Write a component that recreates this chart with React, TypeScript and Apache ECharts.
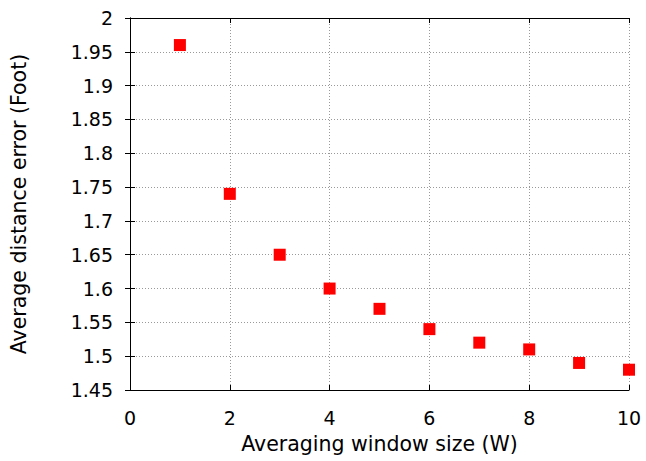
import React, { useEffect, useRef } from "react";
import * as echarts from "echarts";

const windowSizes = [1, 2, 3, 4, 5, 6, 7, 8, 9, 10];
const avgErrors = [1.96, 1.74, 1.65, 1.6, 1.57, 1.54, 1.52, 1.51, 1.49, 1.48];

const xTitle = "Averaging window size (W)";
const yTitle = "Average distance error (Foot)";

export default function App() {
  const ref = useRef<HTMLDivElement>(null);
  useEffect(() => {
    if (!ref.current) return;
    const chart = echarts.init(ref.current, null, { renderer: "svg" });
    const font = "DejaVu Sans, sans-serif";
    const gridLine = { show: true, lineStyle: { color: "#999", type: [1, 2], width: 1 } };
    const baseX = {
      type: "value" as const,
      min: 0,
      max: 10,
      interval: 2,
      axisLine: { show: true, lineStyle: { color: "#000", width: 1 } },
      axisTick: { show: true, inside: true, length: 5, lineStyle: { color: "#000" } },
    };
    const baseY = {
      type: "value" as const,
      min: 1.45,
      max: 2,
      interval: 0.05,
      axisLine: { show: true, lineStyle: { color: "#000", width: 1 } },
      axisTick: { show: true, inside: true, length: 5, lineStyle: { color: "#000" } },
    };
    chart.setOption({
      animation: false,
      backgroundColor: "#fff",
      grid: { left: 130, top: 18, width: 499, height: 372, containLabel: false },
      xAxis: [
        {
          ...baseX,
          position: "bottom",
          name: xTitle,
          nameLocation: "middle",
          nameGap: 43,
          nameTextStyle: { fontFamily: font, fontSize: 20.5, color: "#000" },
          axisLabel: { fontFamily: font, fontSize: 19, color: "#000", margin: 18 },
          splitLine: gridLine,
        },
        {
          ...baseX,
          position: "top",
          axisLabel: { show: false },
          splitLine: { show: false },
        },
      ],
      yAxis: [
        {
          ...baseY,
          position: "left",
          name: yTitle,
          nameLocation: "middle",
          nameGap: 101,
          nameTextStyle: { fontFamily: font, fontSize: 20.5, color: "#000" },
          axisLabel: {
            fontFamily: font,
            fontSize: 19,
            color: "#000",
            margin: 17,
            formatter: (v: number) => String(Math.round(v * 100) / 100),
          },
          splitLine: gridLine,
        },
        {
          ...baseY,
          position: "right",
          axisLabel: { show: false },
          splitLine: { show: false },
        },
      ],
      series: [
        {
          type: "scatter",
          symbol: "rect",
          symbolSize: 12,
          itemStyle: { color: "#ff0000", opacity: 1 },
          data: windowSizes.map((w, i) => [w, avgErrors[i]]),
        },
      ],
    });
    return () => chart.dispose();
  }, []);
  return <div ref={ref} style={{ width: 646, height: 461, position: "absolute", left: 0, top: 0 }} />;
}
